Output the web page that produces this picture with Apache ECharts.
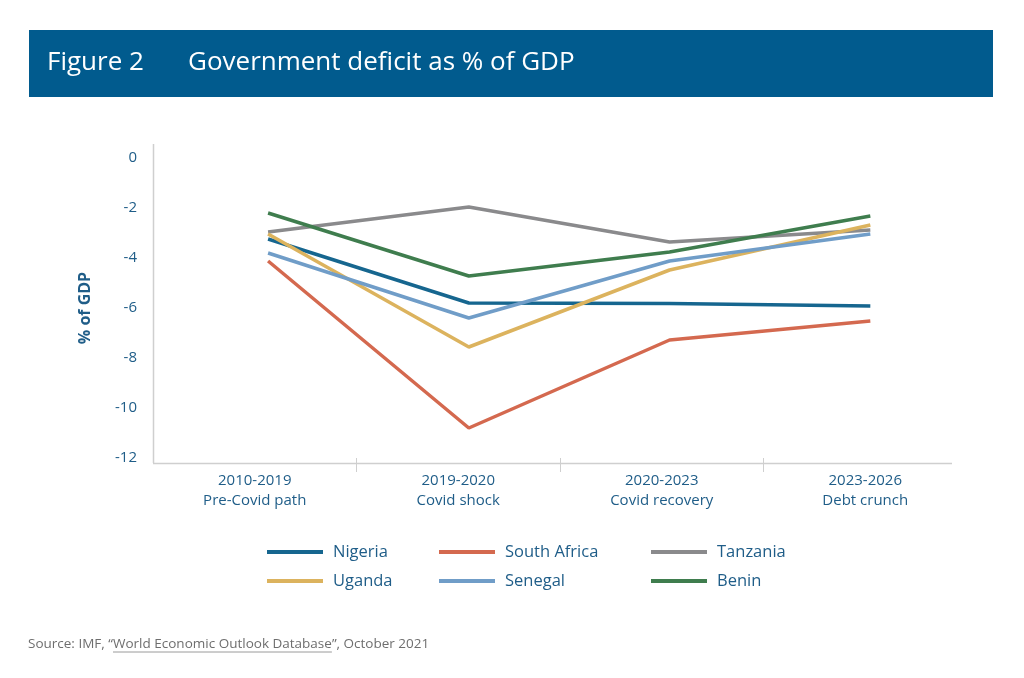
<!DOCTYPE html>
<html>
<head>
<meta charset="utf-8">
<script src="https://cdn.jsdelivr.net/npm/echarts@6/dist/echarts.min.js"></script>
<style>
html,body{margin:0;padding:0;background:#fff;}
#chart{width:1024px;height:678px;}
</style>
</head>
<body>
<div id="chart"></div>
<script>
const categories = ['2010-2019\nPre-Covid path', '2019-2020\nCovid shock', '2020-2023\nCovid recovery', '2023-2026\nDebt crunch'];
const seriesNames = ['Nigeria', 'South Africa', 'Tanzania', 'Uganda', 'Senegal', 'Benin'];
const nigeria = [-3.24, -5.8, -5.82, -5.92];
const southAfrica = [-4.12, -10.8, -7.28, -6.52];
const tanzania = [-2.96, -1.96, -3.36, -2.88];
const uganda = [-3.04, -7.56, -4.48, -2.68];
const senegal = [-3.8, -6.4, -4.12, -3.04];
const benin = [-2.2, -4.72, -3.76, -2.32];
const yMin = -12, yMax = 0, yStep = 2;
const dividerTicks = [1, 2, 3]; // boundaries between category bands

const seriesData = [nigeria, southAfrica, tanzania, uganda, senegal, benin];
const colors = ['#16668f', '#d4694f', '#8a8a8c', '#dcb35e', '#709dc8', '#3f7d4e'];
const textBlue = '#1f5d88';
const axisGray = '#cfcfcf';
const font = '"Open Sans", Lato, sans-serif';

const chart = echarts.init(document.getElementById('chart'));

// legend positions (line start x, row top)
const legendPos = [
  [267, 541], [439, 541], [651, 541],
  [267, 570], [439, 570], [651, 570]
];
const legends = seriesNames.map((n, i) => ({
  left: legendPos[i][0], top: legendPos[i][1], padding: 0,
  data: [n], icon: 'rect', itemWidth: 56, itemHeight: 4, itemGap: 0,
  textStyle: { color: textBlue, fontSize: 16.5, fontFamily: font, lineHeight: 22, padding: [0, 0, 0, 5] },
  selectedMode: false
}));

// source text pieces measured for underline
const srcA = 'Source: IMF, \u201c';
const srcB = 'World Economic Outlook Database';
const srcC = '\u201d, October 2021';
const ctx = document.createElement('canvas').getContext('2d');
const srcFont = '13.5px ' + font;
ctx.font = srcFont;
const wA = ctx.measureText(srcA).width;
const wB = ctx.measureText(srcB).width;

chart.setOption({
  animation: false,
  backgroundColor: '#ffffff',
  color: colors,
  grid: [
    { left: 153, right: 57, top: 158, bottom: 220 },   // axes / labels
    { left: 167.7, right: 53.3, top: 158, bottom: 220 } // data lines
  ],
  legend: legends,
  xAxis: [
    {
      type: 'category', gridIndex: 0, position: 'bottom',
      data: categories,
      boundaryGap: true,
      axisLine: { show: false, onZero: false },
      axisTick: { show: false },
      axisLabel: { color: textBlue, fontSize: 15, fontFamily: font, lineHeight: 20, margin: 13 },
      splitLine: { show: false }
    },
    {
      type: 'category', gridIndex: 1, data: categories, boundaryGap: true, show: false,
      axisLine: { onZero: false }
    },
    {
      type: 'value', gridIndex: 0, position: 'bottom', offset: 0,
      min: 0, max: categories.length, interval: 1,
      axisLine: { show: false, onZero: false },
      axisLabel: { show: false },
      axisTick: { show: true, length: 14, customValues: dividerTicks, lineStyle: { color: axisGray } },
      splitLine: { show: false }
    }
  ],
  yAxis: [
    {
      type: 'value', gridIndex: 0,
      min: yMin, max: yMax, interval: yStep,
      name: '% of GDP',
      nameLocation: 'middle',
      nameRotate: 90,
      nameGap: 60,
      nameTextStyle: { color: textBlue, fontSize: 16, fontWeight: 'bold', fontFamily: font },
      axisLine: { show: false },
      axisTick: { show: false },
      axisLabel: { color: textBlue, fontSize: 15, fontFamily: font, margin: 16 },
      splitLine: { show: false }
    },
    { type: 'value', gridIndex: 1, min: yMin, max: yMax, interval: yStep, show: false }
  ],
  series: seriesNames.map((n, i) => ({
    name: n, type: 'line', data: seriesData[i], symbol: 'none',
    xAxisIndex: 1, yAxisIndex: 1,
    lineStyle: { width: 3.5, color: colors[i] },
    itemStyle: { color: colors[i] }
  })),
  graphic: [
    { type: 'rect', shape: { x: 29, y: 30, width: 964, height: 67 }, style: { fill: '#015b8e' }, z: 0 },
    { type: 'text', x: 47, y: 63, style: { text: 'Figure 2', fill: '#ffffff', font: '26px ' + font, textVerticalAlign: 'middle' } },
    { type: 'text', x: 188, y: 63, style: { text: 'Government deficit as % of GDP', fill: '#ffffff', font: '26px ' + font, textVerticalAlign: 'middle' } },
    // axis frame lines (decoration)
    { type: 'line', shape: { x1: 153.5, y1: 144, x2: 153.5, y2: 463 }, style: { stroke: axisGray, lineWidth: 1.5 } },
    { type: 'line', shape: { x1: 153, y1: 463.5, x2: 952, y2: 463.5 }, style: { stroke: axisGray, lineWidth: 1.5 } },
    { type: 'text', x: 28, y: 644, style: { text: srcA + srcB + srcC, fill: '#6e6e6e', font: srcFont, textVerticalAlign: 'middle' } },
    { type: 'line', shape: { x1: 28 + wA, y1: 652, x2: 28 + wA + wB, y2: 652 }, style: { stroke: '#9a9a9a', lineWidth: 1 } }
  ]
});
</script>
</body>
</html>
